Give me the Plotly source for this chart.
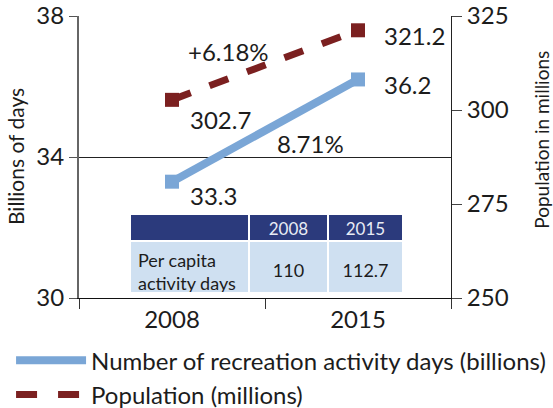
import plotly.graph_objects as go

# Chart data
years = ["2008", "2015"]
activity_days = [33.3, 36.2]          # billions of days
population = [302.7, 321.2]           # millions
per_capita = [110, 112.7]             # activity days per person
pop_change = "+6.18%"
days_change = "8.71%"

FONT = "Lato"
TXT = "#1c1c1c"
BLUE = "#7aa6d6"
RED = "#7b2020"
NAVY = "#2b3a7c"
PALE = "#cfe0f1"

fig = go.Figure()

# Recreation activity days (left axis)
fig.add_trace(go.Scatter(
    x=years, y=activity_days, mode="lines+markers",
    line=dict(color=BLUE, width=8),
    marker=dict(symbol="square", size=14, color=BLUE),
    showlegend=False, yaxis="y", cliponaxis=False,
))
# Population (right axis)
fig.add_trace(go.Scatter(
    x=years, y=population, mode="lines+markers",
    line=dict(color=RED, width=7, dash="20px,20px"),
    marker=dict(symbol="square", size=14, color=RED),
    showlegend=False, yaxis="y2", cliponaxis=False,
))

# Legend entries (line samples only)
fig.add_trace(go.Scatter(
    x=[None], y=[None], mode="lines", name="Number of recreation activity days (billions)",
    line=dict(color=BLUE, width=8),
))
fig.add_trace(go.Scatter(
    x=[None], y=[None], mode="lines", name="Population (millions)",
    line=dict(color=RED, width=7, dash="21px,21px"), yaxis="y2",
))

# Per-capita table: grid, header and row label
fig.add_trace(go.Table(
    domain=dict(x=[0.137, 0.871], y=[0.021, 0.298]),
    columnwidth=[119, 79, 75],
    header=dict(
        values=[""] + years,
        fill_color=NAVY, line=dict(color="white", width=2),
        font=dict(family=FONT, size=17, color="#e8ecf5"),
        align="center", height=27,
    ),
    cells=dict(
        values=[["Per capita<br>activity days"], [""], [""]],
        fill_color=PALE, line=dict(color="white", width=2),
        font=dict(family=FONT, size=18, color=TXT),
        align=["left", "center", "center"], height=51,
    ),
))
# Per-capita values, set lower so they sit mid-cell
fig.add_trace(go.Table(
    domain=dict(x=[0.457, 0.871], y=[0.021, 0.206]),
    columnwidth=[79, 75],
    header=dict(values=[], height=0, line=dict(width=0), fill_color="rgba(0,0,0,0)"),
    cells=dict(
        values=[[f"{per_capita[0]:g}"], [f"{per_capita[1]:g}"]],
        fill_color="rgba(0,0,0,0)", line=dict(width=0),
        font=dict(family=FONT, size=18, color=TXT),
        align="center", height=36,
    ),
))

ann = []
for i in range(len(years)):
    ann.append(dict(x=i, y=activity_days[i], yref="y", text=f"{activity_days[i]:g}",
                    xanchor="left", yanchor="middle", showarrow=False,
                    xshift=16 if i == 0 else 24, yshift=-14 if i == 0 else -5))
    ann.append(dict(x=i, y=population[i], yref="y2", text=f"{population[i]:g}",
                    xanchor="left", yanchor="middle", showarrow=False,
                    xshift=16 if i == 0 else 24, yshift=-20 if i == 0 else -5))
ann.append(dict(x=0.306, y=37.0, yref="y", text=pop_change, showarrow=False,
                xanchor="center", yanchor="middle"))
ann.append(dict(x=0.742, y=34.37, yref="y", text=days_change, showarrow=False,
                xanchor="center", yanchor="middle"))
for a in ann:
    a["font"] = dict(family=FONT, size=24, color=TXT)

# Axis titles
ann.append(dict(xref="paper", yref="paper", x=-0.172, y=0.5, text="Billions of days",
                textangle=-90, showarrow=False, xanchor="center", yanchor="middle",
                font=dict(family=FONT, size=21, color=TXT)))
ann.append(dict(xref="paper", yref="paper", x=1.241, y=0.56, text="Population in millions",
                textangle=-90, showarrow=False, xanchor="center", yanchor="middle",
                font=dict(family=FONT, size=19, color=TXT)))

fig.update_layout(
    width=553, height=408,
    margin=dict(l=79, r=102, t=16, b=110, autoexpand=False),
    paper_bgcolor="white", plot_bgcolor="white",
    font=dict(family=FONT, size=24, color=TXT),
    xaxis=dict(
        type="category", range=[-0.5, 1.5], tickson="boundaries",
        ticks="outside", ticklen=10, tickcolor="#333", showgrid=False,
        showline=True, linecolor="#111", linewidth=1, zeroline=False,
        tickfont=dict(size=24), automargin=False,
    ),
    yaxis=dict(
        range=[30, 38], tickvals=[30, 34, 38], ticks="outside", ticklen=8,
        tickcolor="#555", showline=True, linecolor="#666", linewidth=2,
        showgrid=True, gridcolor="#222", gridwidth=1, zeroline=False,
        tickfont=dict(size=24), automargin=False,
    ),
    yaxis2=dict(
        range=[250, 325], tickvals=[250, 275, 300, 325], overlaying="y", side="right",
        ticks="outside", ticklen=10, tickcolor="#444", showline=True,
        linecolor="#222", linewidth=1, showgrid=False, zeroline=False,
        tickfont=dict(size=24), automargin=False,
    ),
    legend=dict(
        orientation="v", xref="container", yref="container",
        x=0.02, xanchor="left", y=0.171, yanchor="top",
        itemwidth=70, font=dict(size=24), tracegroupgap=0,
        bgcolor="rgba(0,0,0,0)",
    ),
    annotations=ann,
)

fig.write_html("out.html")
